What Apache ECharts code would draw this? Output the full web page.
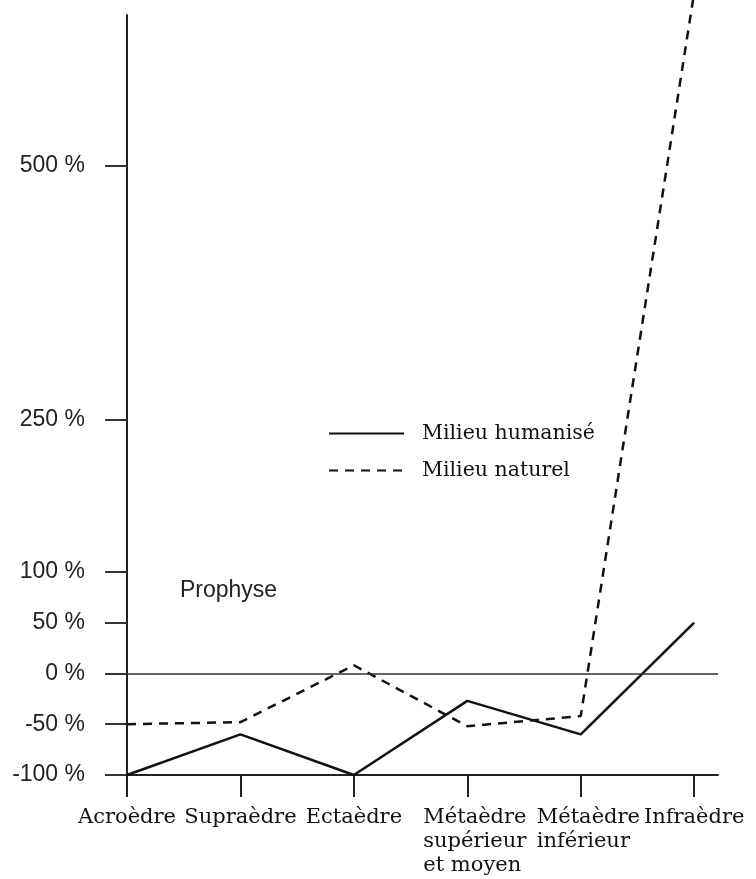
<!DOCTYPE html>
<html><head><meta charset="utf-8">
<script src="https://cdn.jsdelivr.net/npm/echarts@6/dist/echarts.min.js"></script>
<style>html,body{margin:0;padding:0;background:#fff}#c{width:756px;height:879px}</style>
</head><body><div id="c"></div>
<script>
const categories = ['Acroèdre','Supraèdre','Ectaèdre','Métaèdre\nsupérieur\net moyen','Métaèdre\ninférieur','Infraèdre'];
const humanise = [-100, -60, -100, -27, -60, 50];
const naturel = [-50, -48, 8, -52, -42, 670];
const yTicks = [-100, -50, 0, 50, 100, 250, 500];
const seriesNames = ['Milieu humanisé', 'Milieu naturel'];
const annotation = 'Prophyse';

const serif = 'DejaVu Serif';
const sans = 'Liberation Sans';
const idx = categories.map((c, i) => i);

const chart = echarts.init(document.getElementById('c'), null, {renderer: 'canvas'});
chart.setOption({
  animation: false,
  backgroundColor: '#fff',
  grid: {left: 127, right: 38, top: 15, bottom: 104, containLabel: false},
  title: {text: annotation, left: 180, top: 579, padding: 0, textStyle: {fontFamily: sans, fontSize: 23, fontWeight: 'normal', color: '#222'}},
  legend: {
    orient: 'vertical', left: 323, top: 418, itemWidth: 75, itemHeight: 14, itemGap: 16,
    itemStyle: {color: 'transparent', borderColor: 'transparent', borderWidth: 0, opacity: 0},
    textStyle: {fontFamily: serif, fontSize: 20.5, color: '#111', padding: [0, 0, 0, 13]},
    data: seriesNames
  },
  xAxis: {
    type: 'value', min: 0, max: 5.21,
    axisLine: {show: true, onZero: false, lineStyle: {color: '#222', width: 2}},
    axisTick: {show: true, length: 22, customValues: idx, lineStyle: {color: '#222', width: 2}},
    axisLabel: {customValues: idx, margin: 31, fontFamily: serif, fontSize: 21, color: '#111', lineHeight: 24,
      formatter: v => {
        const s = categories[Math.round(v)];
        return s.indexOf('\n') >= 0 ? '{m|' + s + '}' : s;
      },
      rich: {m: {fontFamily: serif, fontSize: 21, color: '#111', lineHeight: 24, width: 100, align: 'left', padding: [0, 0, 0, 12]}}
    },
    splitLine: {show: false}
  },
  yAxis: {
    type: 'value', min: -100, max: 648,
    axisLine: {show: true, onZero: false, lineStyle: {color: '#222', width: 2}},
    axisTick: {show: true, length: 22, customValues: yTicks, lineStyle: {color: '#333', width: 2}},
    axisLabel: {customValues: yTicks, margin: 42, fontFamily: sans, fontSize: 23, color: '#222', formatter: v => v + ' %'},
    splitLine: {show: false}
  },
  series: [
    {name: seriesNames[0], type: 'line', symbol: 'none', clip: false,
     data: humanise.map((v, i) => [i, v]),
     lineStyle: {color: '#111', width: 2.5, type: 'solid'}, itemStyle: {color: '#111'},
     markLine: {silent: true, symbol: 'none', label: {show: false},
       lineStyle: {color: '#333', width: 1.6, type: 'solid'}, data: [{yAxis: 0}]}
    },
    {name: seriesNames[1], type: 'line', symbol: 'none', clip: false,
     data: naturel.map((v, i) => [i, v]),
     lineStyle: {color: '#111', width: 2.5, type: [9, 7]}, itemStyle: {color: '#111'}}
  ]
});
</script></body></html>
